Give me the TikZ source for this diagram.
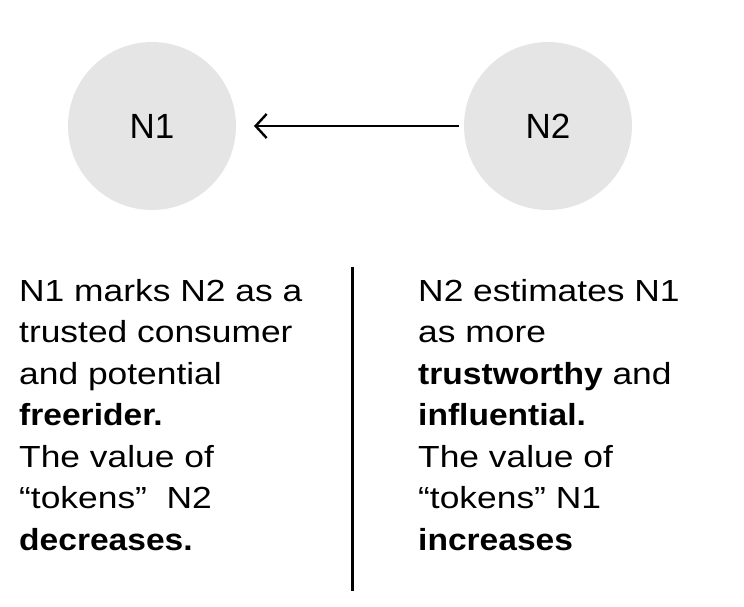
\documentclass[tikz,border=0pt]{standalone}
\usepackage{fontspec}
\setmainfont[FakeStretch=1.16,BoldFeatures={FakeStretch=1.10}]{Liberation Sans}
\newfontfamily\labelfont{Liberation Sans}
\usetikzlibrary{arrows.meta}
\begin{document}
\begin{tikzpicture}[x=1pt,y=-1pt,
  peer/.style={circle,fill=gray!20,minimum size=168pt,inner sep=0pt,
    font=\labelfont\fontsize{35}{40}\selectfont},
  bodytext/.style={anchor=base west,align=left,inner sep=0pt,
    font=\fontsize{30.5}{41.5}\selectfont},
  link/.style={line width=2.4pt,-{Straight Barb[length=11pt,width=24pt,line width=2.4pt]}}]
\useasboundingbox (0,0) rectangle (744,606);
\node[peer] (n1) at (152,126) {N1};
\node[peer] (n2) at (548,126) {N2};
\coordinate (tipL) at (254,126);
\coordinate (startR) at (459,126);
\draw[link] (startR) -- (tipL);
\coordinate (divT) at (352.3,267);
\coordinate (divB) at (352.3,591);
\draw[line width=3pt] (divT) -- (divB);
\node[bodytext] (left) at (19,550) {N1 marks N2 as a\\trusted consumer\\and potential\\\textbf{freerider.}\\The value of\\“tokens”\ \ N2\\\textbf{decreases.}};
\node[bodytext] (right) at (418,550) {N2 estimates N1\\as more\\\textbf{trustworthy} and\\\textbf{influential.}\\The value of\\“tokens” N1\\\textbf{increases}};
\end{tikzpicture}
\end{document}
